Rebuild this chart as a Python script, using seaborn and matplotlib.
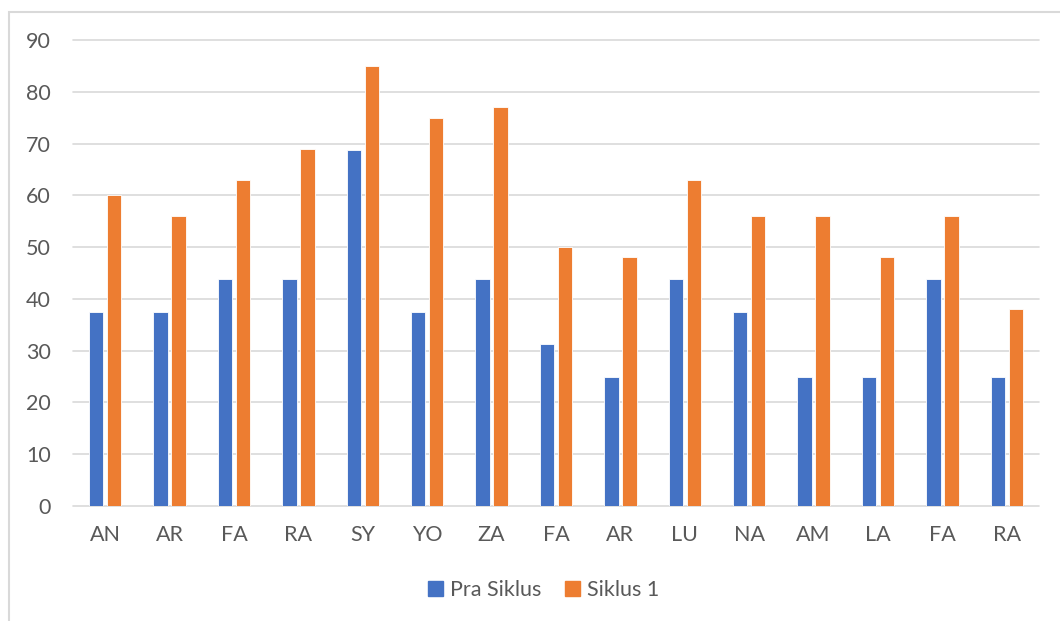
import matplotlib
matplotlib.use("Agg")
import matplotlib.pyplot as plt
import matplotlib.patches as mpatches
import seaborn as sns
import pandas as pd
import numpy as np

categories = ["AN", "AR", "FA", "RA", "SY", "YO", "ZA", "FA", "AR", "LU", "NA", "AM", "LA", "FA", "RA"]
pra_siklus = [37.5, 37.5, 43.75, 43.75, 68.75, 37.5, 43.75, 31.25, 25, 43.75, 37.5, 25, 25, 43.75, 25]
siklus_1 = [60, 56, 63, 69, 85, 75, 77, 50, 48, 63, 56, 56, 48, 56, 38]
series_names = ["Pra Siklus", "Siklus 1"]
colors = ["#4472C4", "#ED7D31"]
y_ticks = [0, 10, 20, 30, 40, 50, 60, 70, 80, 90]

n = len(categories)
df = pd.DataFrame({
    "idx": list(range(n)) * 2,
    "series": [series_names[0]] * n + [series_names[1]] * n,
    "value": pra_siklus + siklus_1,
})

sns.set_theme(style="white")
plt.rcParams["font.family"] = ["Lato", "DejaVu Sans"]

fig = plt.figure(figsize=(10.60, 6.21), dpi=100)
ax = fig.add_axes([73 / 1060, 1 - 506 / 621, (1039 - 73) / 1060, (506 - 40) / 621])

sns.barplot(data=df, x="idx", y="value", hue="series", order=list(range(n)),
            hue_order=series_names, palette=colors, width=0.56, gap=0.2,
            edgecolor="white", linewidth=0.6, saturation=1, ax=ax, legend=False)

ax.set_ylim(0, 90)
ax.set_xlim(-0.5, n - 0.5)
ax.set_yticks(y_ticks)
ax.set_yticklabels([str(t) for t in y_ticks])
ax.set_xticks(range(n))
ax.set_xticklabels(categories)
ax.set_xlabel("")
ax.set_ylabel("")
ax.yaxis.grid(True, color="#D9D9D9", linewidth=1.2)
ax.xaxis.grid(False)
ax.set_axisbelow(True)
for gl in ax.get_ygridlines():
    gl.set_clip_on(False)
for s in ax.spines.values():
    s.set_visible(False)
ax.tick_params(axis="both", length=0, labelsize=15.5, colors="#595959")
ax.tick_params(axis="x", pad=14)
ax.tick_params(axis="y", pad=16)

handles = [mpatches.Patch(color=c, label=l) for c, l in zip(colors, series_names)]
leg = fig.legend(handles=handles, loc="center", bbox_to_anchor=(0.513, 1 - 590 / 621),
                 ncol=2, frameon=False, fontsize=15.5, handlelength=0.68, handleheight=0.68,
                 handletextpad=0.33, columnspacing=1.1)
for t in leg.get_texts():
    t.set_color("#595959")

border = mpatches.Rectangle((9 / 1060, -0.1), 1.2, 1 - 12 / 621 + 0.1,
                            transform=fig.transFigure, fill=False,
                            edgecolor="#D9D9D9", linewidth=1.5, clip_on=False)
fig.patches.append(border)

fig.savefig("out.png", dpi=100, facecolor="white")
